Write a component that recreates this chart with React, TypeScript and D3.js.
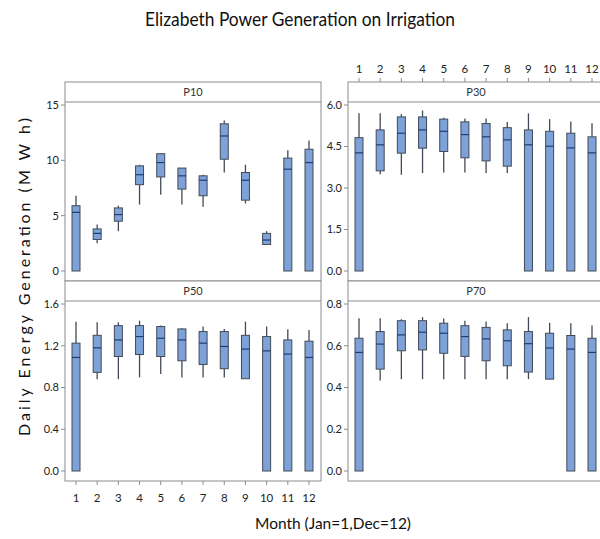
import * as d3 from "d3";

// month categories
const months = [1, 2, 3, 4, 5, 6, 7, 8, 9, 10, 11, 12];

// each entry: [whiskerLow, q1, median, q3, whiskerHigh]
const p10Stats = [
  [0, 0, 5.3, 5.9, 6.8],
  [2.5, 2.85, 3.4, 3.8, 4.2],
  [3.6, 4.5, 5.1, 5.7, 5.9],
  [6.0, 7.8, 8.7, 9.5, 9.6],
  [6.9, 8.5, 9.8, 10.6, 10.6],
  [6.0, 7.4, 8.6, 9.3, 9.3],
  [5.8, 6.8, 8.2, 8.6, 8.7],
  [8.9, 10.1, 12.2, 13.3, 13.6],
  [6.1, 6.4, 8.2, 8.9, 9.6],
  [2.4, 2.4, 2.8, 3.4, 3.6],
  [0, 0, 9.2, 10.2, 10.9],
  [0, 0, 9.8, 11.0, 11.8],
];
const p30Stats = [
  [0, 0, 4.27, 4.82, 5.7],
  [3.5, 3.62, 4.56, 5.1, 5.7],
  [3.48, 4.26, 4.98, 5.57, 5.67],
  [3.54, 4.44, 5.1, 5.57, 5.8],
  [3.56, 4.32, 5.05, 5.49, 5.54],
  [3.56, 4.09, 4.93, 5.39, 5.51],
  [3.54, 3.98, 4.85, 5.33, 5.51],
  [3.54, 3.79, 4.74, 5.18, 5.39],
  [0, 0, 4.56, 5.1, 5.7],
  [0, 0, 4.51, 5.05, 5.49],
  [0, 0, 4.45, 4.98, 5.4],
  [0, 0, 4.27, 4.85, 5.34],
];
const p50Stats = [
  [0, 0, 1.088, 1.225, 1.43],
  [0.88, 0.945, 1.18, 1.3, 1.425],
  [0.88, 1.097, 1.256, 1.393, 1.425],
  [0.897, 1.116, 1.288, 1.393, 1.44],
  [0.929, 1.097, 1.272, 1.384, 1.393],
  [0.897, 1.056, 1.256, 1.361, 1.368],
  [0.897, 1.021, 1.225, 1.336, 1.384],
  [0.897, 0.98, 1.193, 1.336, 1.361],
  [0.884, 0.884, 1.168, 1.3, 1.43],
  [0, 0, 1.151, 1.288, 1.384],
  [0, 0, 1.12, 1.256, 1.358],
  [0, 0, 1.088, 1.244, 1.352],
];
const p70Stats = [
  [0, 0, 0.568, 0.636, 0.732],
  [0.434, 0.488, 0.608, 0.668, 0.732],
  [0.44, 0.576, 0.652, 0.72, 0.727],
  [0.44, 0.58, 0.665, 0.72, 0.737],
  [0.44, 0.564, 0.66, 0.708, 0.73],
  [0.44, 0.549, 0.644, 0.696, 0.72],
  [0.44, 0.528, 0.633, 0.688, 0.716],
  [0.44, 0.504, 0.624, 0.676, 0.708],
  [0.44, 0.474, 0.61, 0.668, 0.737],
  [0.44, 0.44, 0.589, 0.66, 0.71],
  [0, 0, 0.584, 0.649, 0.708],
  [0, 0, 0.568, 0.636, 0.697],
];

const p10Ticks = [0, 5, 10, 15];
const p30Ticks = [0, 1.5, 3, 4.5, 6];
const p50Ticks = [0, 0.4, 0.8, 1.2, 1.6];
const p70Ticks = [0, 0.2, 0.4, 0.6, 0.8];

const FONT = "Lato, 'Open Sans', sans-serif";
const FRAME = "#8c8c8c";
const BOX_FILL = "#7ea2d8";
const BOX_STROKE = "#414a56";
const MEDIAN = "#1d3c78";

const Panel = ({ title, stats, ticks, fmt, left, right, top, bottom, topAxis, bottomAxis }) => {
  const stripH = 20;
  const x = d3.scalePoint<number>().domain(months).range([left + 11, right - 12]);
  const yMax = ticks[ticks.length - 1];
  const y = d3.scaleLinear().domain([0, yMax]).range([bottom - 10, top + stripH + 3]);
  const bw = 8;
  return (
    <g>
      <rect x={left} y={top} width={right - left} height={bottom - top} fill="white" stroke={FRAME} />
      <line x1={left} x2={right} y1={top + stripH} y2={top + stripH} stroke={FRAME} />
      <text x={(left + right) / 2} y={top + 14} textAnchor="middle" fontSize={11} fontFamily={FONT} fill="#333">
        {title}
      </text>
      {ticks.map((t) => (
        <g key={t}>
          <line x1={left - 4} x2={left} y1={y(t)} y2={y(t)} stroke={FRAME} />
          <text x={left - 6} y={y(t)} dy="0.35em" textAnchor="end" fontSize={11} fontFamily={FONT} fill="#222">
            {fmt(t)}
          </text>
        </g>
      ))}
      {topAxis &&
        months.map((m) => (
          <g key={m}>
            <line x1={x(m)} x2={x(m)} y1={top - 4} y2={top} stroke={FRAME} />
            <text x={x(m)} y={top - 9} textAnchor="middle" fontSize={11.5} fontFamily={FONT} fill="#222">
              {m}
            </text>
          </g>
        ))}
      {bottomAxis &&
        months.map((m) => (
          <g key={m}>
            <line x1={x(m)} x2={x(m)} y1={bottom} y2={bottom + 4} stroke={FRAME} />
            <text x={x(m)} y={bottom + 21} textAnchor="middle" fontSize={11.5} fontFamily={FONT} fill="#222">
              {m}
            </text>
          </g>
        ))}
      {stats.map((s, i) => {
        const cx = x(months[i]);
        const [lo, q1, med, q3, hi] = s;
        return (
          <g key={i}>
            <line x1={cx} x2={cx} y1={y(hi)} y2={y(q3)} stroke={BOX_STROKE} strokeWidth={1.3} />
            <line x1={cx} x2={cx} y1={y(q1)} y2={y(lo)} stroke={BOX_STROKE} strokeWidth={1.3} />
            <rect x={cx - bw / 2} y={y(q3)} width={bw} height={Math.max(y(q1) - y(q3), 1)} fill={BOX_FILL} stroke={BOX_STROKE} />
            <line x1={cx - bw / 2} x2={cx + bw / 2} y1={y(med)} y2={y(med)} stroke={MEDIAN} strokeWidth={1.2} />
          </g>
        );
      })}
    </g>
  );
};

export default function App() {
  const f1 = d3.format(".1f");
  return (
    <svg width={600} height={539} style={{ position: "absolute", left: 0, top: 0, background: "white" }}>
      <text x={300} y={26} textAnchor="middle" fontSize={19} fontFamily={FONT} fill="#111" textLength={310} lengthAdjust="spacingAndGlyphs">
        Elizabeth Power Generation on Irrigation
      </text>
      <Panel title="P10" stats={p10Stats} ticks={p10Ticks} fmt={(t) => String(t)} left={65} right={321} top={82} bottom={281} topAxis={false} bottomAxis={false} />
      <Panel title="P30" stats={p30Stats} ticks={p30Ticks} fmt={f1} left={348} right={604} top={82} bottom={281} topAxis={true} bottomAxis={false} />
      <Panel title="P50" stats={p50Stats} ticks={p50Ticks} fmt={f1} left={65} right={321} top={281} bottom={481} topAxis={false} bottomAxis={true} />
      <Panel title="P70" stats={p70Stats} ticks={p70Ticks} fmt={f1} left={348} right={604} top={281} bottom={481} topAxis={false} bottomAxis={false} />
      <text transform="translate(30,277) rotate(-90)" textAnchor="middle" fontSize={16} fontFamily={FONT} fill="#111" textLength={318} lengthAdjust="spacing">
        Daily Energy Generation (M W h)
      </text>
      <text x={333} y={529} textAnchor="middle" fontSize={15} fontFamily={FONT} fill="#111" textLength={156} lengthAdjust="spacingAndGlyphs">
        Month (Jan=1,Dec=12)
      </text>
    </svg>
  );
}
